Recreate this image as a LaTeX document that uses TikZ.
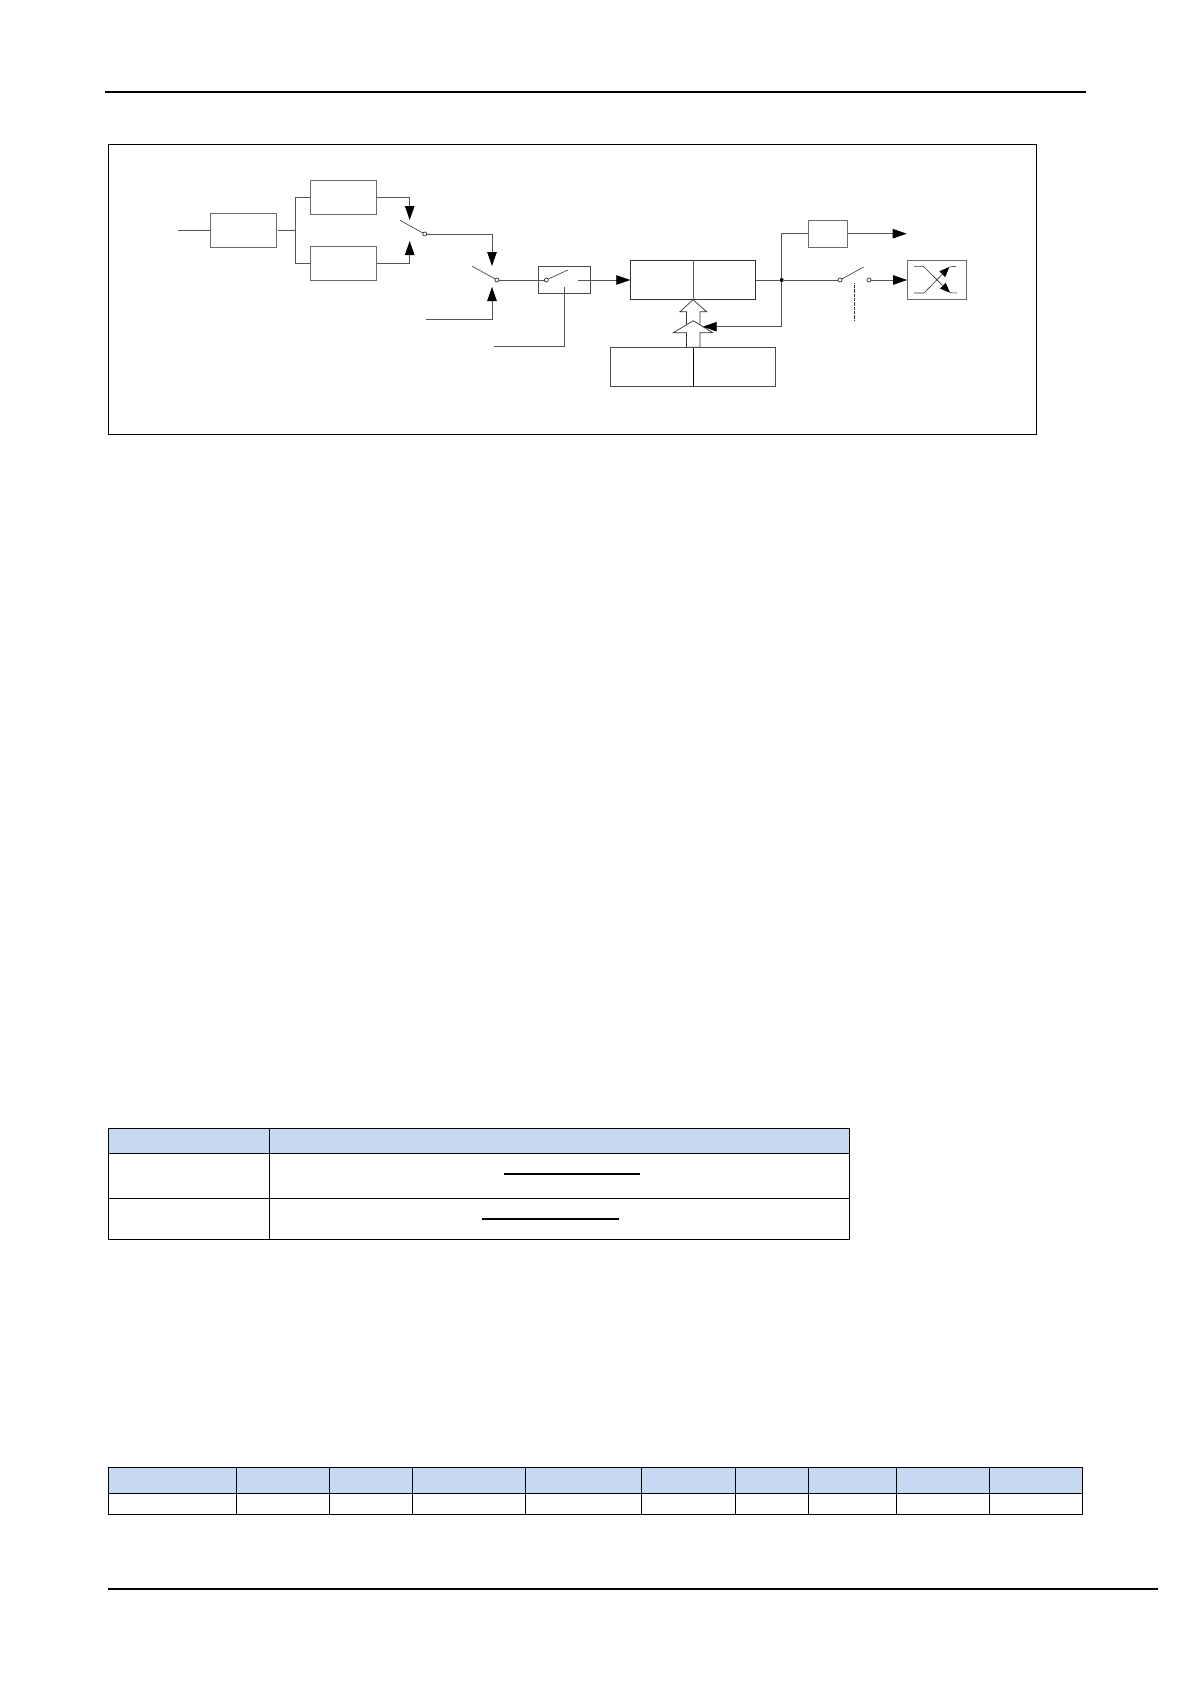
\documentclass[tikz,border=0pt]{standalone}
\usepackage{xcolor}
\usetikzlibrary{arrows.meta,positioning,calc}
\definecolor{wire}{RGB}{85,85,85}
\definecolor{edge}{RGB}{105,105,105}
\definecolor{headblue}{RGB}{198,217,240}
\tikzset{
  fbox/.style={rectangle,draw=edge,line width=0.9pt,fill=white,outer sep=0pt,inner sep=0pt,
               minimum width=66pt,minimum height=33.3pt},
  contact/.style={circle,draw=black!80,line width=0.7pt,fill=white,inner sep=0pt,outer sep=0pt,minimum size=4pt},
  junction/.style={circle,fill=black,inner sep=0pt,outer sep=0pt,minimum size=4pt},
  line/.style={draw=wire,line width=0.8pt},
  arm/.style={draw=black!80,line width=0.6pt},
  flow/.style={-{Triangle[length=14pt,width=9.5pt,color=black]},draw=wire,line width=0.8pt},
  hollow/.style={draw=black!80,line width=0.7pt,fill=white},
  rule/.style={draw=black,line width=2pt},
  grid/.style={draw=black,line width=1pt},
  headcell/.style={grid,fill=headblue},
}
\begin{document}
\begin{tikzpicture}[x=1pt,y=-1pt,node distance=32.7pt and 34.4pt]
  \useasboundingbox (0,0) rectangle (1191,1684);
  \coordinate (ruleal) at (105,92);
  \coordinate (rulear) at (1086,92);
  \coordinate (rulebl) at (108,1588.7);
  \coordinate (rulebr) at (1158,1588.7);
  \draw[rule] (ruleal) -- (rulear);
  \draw[rule] (rulebl) -- (rulebr);
  \node[rectangle,draw=black,line width=1.1pt,minimum width=928.4pt,minimum height=290pt,outer sep=0pt,inner sep=0pt] (frame) at (572.5,289.3) {};

  % left branch
  \node[fbox] (prefil) at (243.3,230.3) {};
  \node[fbox] (upper) at (343.7,197.3) {};
  \node[fbox,below=of upper] (lower) {};
  \coordinate (fork) at (295.3,230.3);
  \coordinate (input) at (177.7,230.3);
  \coordinate (prefilout) at (278,230.3);
  \draw[line] (input) -- (prefil);
  \draw[line] (prefilout) -- (fork);
  \draw[line] (upper.west) -| (fork) |- (lower.west);

  % first selector
  \node[contact] (sela) at (424.7,234) {};
  \coordinate (selaarm) at (400,220.3);
  \coordinate (selaup) at (409.7,220);
  \coordinate (seladn) at (409.7,241);
  \draw[arm] (selaarm) -- (sela);
  \draw[flow] (upper.east) -| (selaup);
  \draw[flow] (lower.east) -| (seladn);

  % second selector
  \node[contact] (selb) at (497,280) {};
  \coordinate (selbarm) at (472.3,266.3);
  \coordinate (selbup) at (492,266);
  \coordinate (selbdn) at (492,287);
  \coordinate (lowin) at (426.3,319.3);
  \draw[arm] (selbarm) -- (selb);
  \draw[flow] (sela) -| (selbup);
  \draw[flow] (lowin) -| (selbdn);

  % sampling switch
  \node[fbox,minimum width=52.7pt,minimum height=27pt,draw=black!70,line width=0.7pt] (smp) at (564.4,279.8) {};
  \node[contact] (smpc) at (546.3,280) {};
  \coordinate (smparm) at (567.7,270);
  \coordinate (smpout) at (578.3,280);
  \coordinate (smpctl) at (564.7,286.7);
  \coordinate (ctlin) at (494,346.3);
  \draw[line] (selb) -- (smpc);
  \draw[arm] (smpc) -- (smparm);
  \draw[line] (smpctl) |- (ctlin);

  % center blocks
  \node[fbox,minimum width=125.4pt,minimum height=39.4pt,draw=black!80] (gain) at (693,280) {};
  \node[fbox,minimum width=165pt,minimum height=39.4pt,draw=black!70] (ref) at (693.2,367) {};
  \draw[line] (gain.north) -- (gain.south);
  \draw[draw=black,line width=0.8pt] (ref.north) -- (ref.south);
  \draw[flow] (smpout) -- (gain.west);
  \draw[hollow] (gain.south) -- (706.6,311.7) -- (699.9,311.7) -- (699.9,327) -- (686.5,327) -- (686.5,311.7) -- (680,311.7) -- cycle;
  \draw[hollow] (693.2,320.7) -- (712.7,332.7) -- (699.9,332.7) -- (699.9,347.3) -- (686.5,347.3) -- (686.5,332.7) -- (673.3,332.7) -- cycle;

  % output side
  \node[junction] (jct) at (781.7,280) {};
  \node[fbox,minimum width=39.4pt,minimum height=26.7pt] (buf) at (828,233.7) {};
  \node[contact] (outa) at (840,280) {};
  \node[contact] (outb) at (869,280) {};
  \node[fbox,minimum width=59.7pt,minimum height=39.4pt] (xbox) at (936.9,280) {};
  \coordinate (outarm) at (863.7,267);
  \coordinate (bufout) at (906.7,233.7);
  \coordinate (fdbk) at (702.7,326.7);
  \coordinate (ganga) at (854.7,283.3);
  \coordinate (gangb) at (854.7,320);
  \draw[line] (gain.east) -- (jct);
  \draw[line] (jct) -- (outa);
  \draw[arm] (outa) -- (outarm);
  \draw[line] (jct) |- (buf.west);
  \draw[flow] (buf.east) -- (bufout);
  \draw[flow] (outb) -- (xbox.west);
  \draw[flow] (jct) |- (fdbk);
  \draw[draw=black!80,line width=0.9pt,dash pattern=on 1pt off 0.3pt] (ganga) -- (gangb);

  % cross symbol
  \draw[arm] (914,266.3) -- (923.3,266.3) -- (936.9,279.8);
  \draw[arm,-{Triangle[length=10pt,width=8pt,color=black]}] (936.9,279.8) -- (950,292.7);
  \draw[arm] (950,292.7) -- (956.7,293);
  \draw[arm,-{Triangle[length=10pt,width=8pt,color=black]}] (914,293) -- (924,293) -- (949.3,267);
  \draw[arm] (949.3,267) -- (956,266.3);

  % first table
  \draw[headcell] (108.3,1128.3) rectangle (269.3,1153.3);
  \draw[headcell] (269.3,1128.3) rectangle (849.3,1153.3);
  \foreach \ya/\yb in {1153.3/1198.3,1198.3/1239.3}{
    \draw[grid] (108.3,\ya) rectangle (269.3,\yb);
    \draw[grid] (269.3,\ya) rectangle (849.3,\yb);
  }
  \draw[rule] (504,1173.7) -- (640,1173.7);
  \draw[rule] (482,1219) -- (619,1219);

  % second table
  \foreach \xa/\xb in {108.3/236.3,236.3/329.3,329.3/412.3,412.3/525.3,525.3/641.7,641.7/735.3,735.3/808.3,808.3/896.3,896.3/989.3,989.3/1082.3}{
    \draw[headcell] (\xa,1467.3) rectangle (\xb,1493.3);
    \draw[grid] (\xa,1493.3) rectangle (\xb,1514.3);
  }
\end{tikzpicture}
\end{document}
